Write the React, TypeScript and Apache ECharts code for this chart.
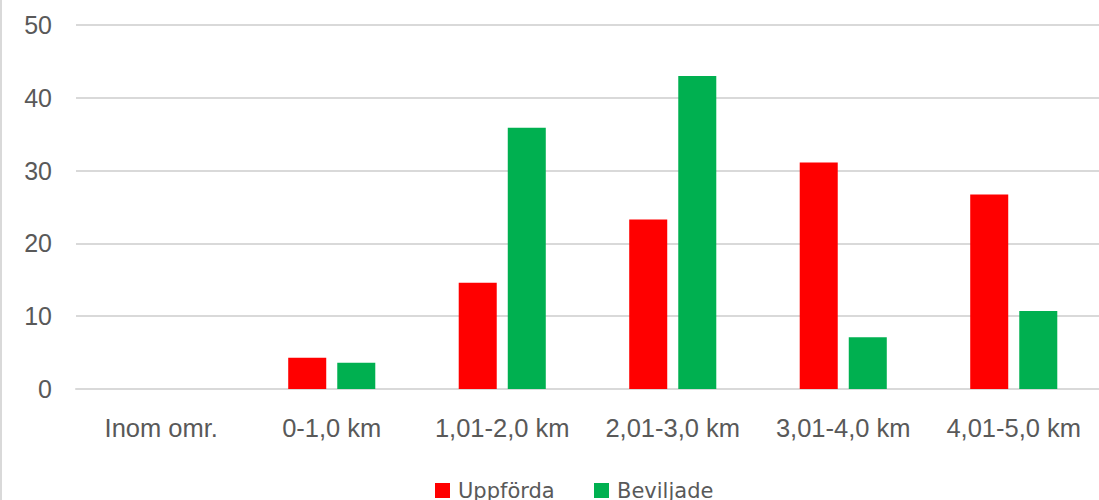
import React, { useEffect, useRef } from "react";
import * as echarts from "echarts";

const categories = ["Inom omr.", "0-1,0 km", "1,01-2,0 km", "2,01-3,0 km", "3,01-4,0 km", "4,01-5,0 km"];
const uppforda = [0, 4.3, 14.6, 23.3, 31.1, 26.7];
const beviljade = [0, 3.6, 35.9, 43.0, 7.1, 10.7];
const seriesNames = ["Uppförda", "Beviljade"];

export default function App() {
  const ref = useRef<HTMLDivElement>(null);
  useEffect(() => {
    document.body.style.margin = "0";
    const chart = echarts.init(ref.current!, null, { renderer: "svg" });
    const font = "'Liberation Sans', Arial, sans-serif";
    const legendText = { color: "#595959", fontSize: 21, fontFamily: "'DejaVu Sans', sans-serif", padding: [0, 0, 0, 3] };
    const legendBase = {
      top: 475,
      itemWidth: 15,
      itemHeight: 15,
      icon: "rect",
      textStyle: legendText,
    };
    chart.setOption({
      animation: false,
      backgroundColor: "#ffffff",
      grid: { left: 76, right: 0, top: 25, bottom: 111, containLabel: false },
      legend: [
        { ...legendBase, left: 430, data: [seriesNames[0]] },
        { ...legendBase, left: 589, data: [seriesNames[1]] },
      ],
      xAxis: {
        type: "category",
        data: categories,
        axisLine: { show: true, lineStyle: { color: "#d9d9d9", width: 2 } },
        axisTick: { show: false },
        axisLabel: { color: "#595959", fontSize: 25.5, fontFamily: font, margin: 26, interval: 0 },
      },
      yAxis: {
        type: "value",
        min: 0,
        max: 50,
        interval: 10,
        axisLine: { show: false },
        axisTick: { show: false },
        splitLine: { lineStyle: { color: "#d9d9d9", width: 2 } },
        axisLabel: { color: "#595959", fontSize: 25, fontFamily: font, margin: 24 },
      },
      series: [
        {
          name: seriesNames[0],
          type: "bar",
          data: uppforda,
          barWidth: "22.3%",
          barGap: "29%",
          itemStyle: { color: "#ff0000" },
        },
        {
          name: seriesNames[1],
          type: "bar",
          data: beviljade,
          barWidth: "22.3%",
          itemStyle: { color: "#00b050" },
        },
      ],
      graphic: [
        {
          type: "rect",
          left: 0,
          top: 0,
          shape: { width: 2, height: 500 },
          style: { fill: "#d9d9d9" },
        },
      ],
    });
    return () => chart.dispose();
  }, []);
  return <div ref={ref} style={{ width: 1099, height: 500 }} />;
}
